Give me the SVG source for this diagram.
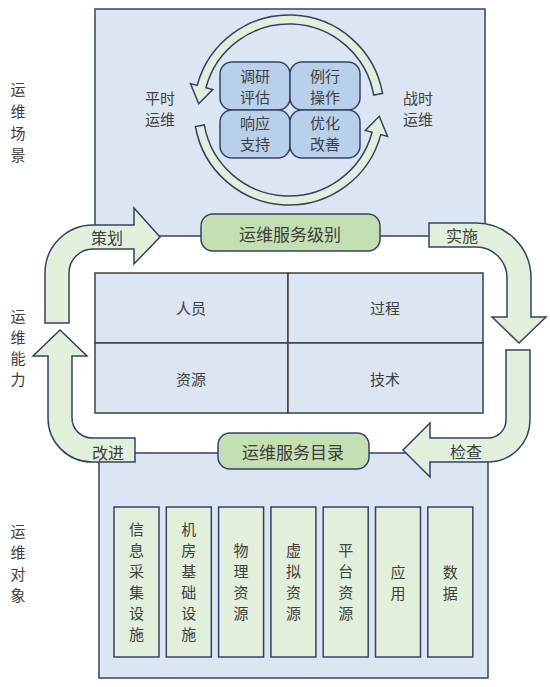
<svg xmlns="http://www.w3.org/2000/svg" width="550" height="687" viewBox="0 0 550 687">
<style>
text{font-family:"Noto Sans CJK SC","Liberation Sans",sans-serif;fill:#404040;text-anchor:middle;dominant-baseline:central}
.box{fill:#dce6f2;stroke:#35406a;stroke-width:1.5}
.grid{fill:#dce6f2;stroke:#404040;stroke-width:1.5}
.pill{fill:#c4dfb2;stroke:#35406a;stroke-width:1.5}
.quad{fill:#b9d0ea;stroke:#35406a;stroke-width:1.5}
.col{fill:#e2efda;stroke:#35406a;stroke-width:1.5}
.arr{fill:#e2efda;stroke:#35406a;stroke-width:1.5;stroke-linejoin:miter}
.t15{font-size:15px}
.t16{font-size:16px}
.t17{font-size:17px}
</style>
<rect width="550" height="687" fill="#ffffff"/>

<g id="scene-box">
<rect class="box" x="95" y="9" width="390" height="227"/>
</g>
<g id="object-box">
<rect class="box" x="99" y="453" width="389" height="225"/>
</g>

<g id="labels">
<text class="t15" x="18"><tspan x="18" y="88">运</tspan><tspan x="18" y="110">维</tspan><tspan x="18" y="132">场</tspan><tspan x="18" y="154">景</tspan></text>
<text class="t15" x="18"><tspan x="18" y="315">运</tspan><tspan x="18" y="336">维</tspan><tspan x="18" y="357">能</tspan><tspan x="18" y="378">力</tspan></text>
<text class="t15" x="18"><tspan x="18" y="530">运</tspan><tspan x="18" y="551">维</tspan><tspan x="18" y="573">对</tspan><tspan x="18" y="594">象</tspan></text>
</g>

<g id="cycle">
<path class="arr" d="M382.56,93.5 A95,95 0 0 0 197.24,85.41 L190.48,83.6 L198.72,103.69 L212.69,89.55 L205.93,87.74 A86,86 0 0 1 373.69,95.07 Z"/>
<path class="arr" d="M195.44,126.5 A95,95 0 0 0 380.76,134.59 L387.52,136.4 L379.28,116.31 L365.31,130.45 L372.07,132.26 A86,86 0 0 1 204.31,124.93 Z"/>
<text class="t15"><tspan x="160" y="97">平时</tspan><tspan x="160" y="118">运维</tspan></text>
<text class="t15"><tspan x="418" y="97">战时</tspan><tspan x="418" y="118">运维</tspan></text>
</g>

<g id="q-research">
<rect class="quad" x="220" y="62" width="70" height="48" rx="12"/>
<text class="t15"><tspan x="255" y="75">调研</tspan><tspan x="255" y="96">评估</tspan></text>
</g>
<g id="q-routine">
<rect class="quad" x="290" y="62" width="70" height="48" rx="12"/>
<text class="t15"><tspan x="325" y="75">例行</tspan><tspan x="325" y="96">操作</tspan></text>
</g>
<g id="q-response">
<rect class="quad" x="220" y="110" width="70" height="48" rx="12"/>
<text class="t15"><tspan x="255" y="122">响应</tspan><tspan x="255" y="143">支持</tspan></text>
</g>
<g id="q-optimize">
<rect class="quad" x="290" y="110" width="70" height="48" rx="12"/>
<text class="t15"><tspan x="325" y="122">优化</tspan><tspan x="325" y="143">改善</tspan></text>
</g>

<g id="capability-grid">
<rect class="grid" x="95" y="273" width="193" height="70"/>
<rect class="grid" x="288" y="273" width="195" height="70"/>
<rect class="grid" x="95" y="343" width="193" height="70"/>
<rect class="grid" x="288" y="343" width="195" height="70"/>
<text class="t15" x="191" y="307">人员</text>
<text class="t15" x="385" y="307">过程</text>
<text class="t15" x="191" y="378">资源</text>
<text class="t15" x="385" y="378">技术</text>
</g>

<g id="connectors">
<path class="arr" d="M45,323 L45,273 A48,48 0 0 1 93,225 L134,225 L134,208 L160,237 L134,264 L134,249 L93,249 A24,24 0 0 0 69,273 L69,323 Z"/>
<path class="arr" d="M429,223 L476,223 A55,55 0 0 1 531,278 L531,317 L546,317 L519,343 L492,317 L507,317 L507,278 A31,31 0 0 0 476,247 L429,247 Z"/>
<path class="arr" d="M506,350 L530,350 L530,420 A42,42 0 0 1 488,462 L430,462 L430,477 L403,450 L430,423 L430,438 L488,438 A18,18 0 0 0 506,420 Z"/>
<path class="arr" d="M135,438 L135,462 L92,462 A44,44 0 0 1 48,418 L48,356 L33,356 L60,330 L87,356 L72,356 L72,418 A20,20 0 0 0 92,438 Z"/>
<text class="t16" x="107" y="237">策划</text>
<text class="t16" x="462" y="235">实施</text>
<text class="t16" x="466" y="451">检查</text>
<text class="t16" x="108" y="452">改进</text>
</g>

<g id="sla">
<rect class="pill" x="201" y="214" width="179" height="37" rx="12"/>
<text class="t17" x="290" y="233">运维服务级别</text>
</g>
<g id="catalog">
<rect class="pill" x="218" y="433" width="151" height="36" rx="12"/>
<text class="t17" x="293" y="451">运维服务目录</text>
</g>

<g id="c1">
<rect class="col" x="114" y="507" width="45" height="150"/>
<text class="t15"><tspan x="136.5" y="528">信</tspan><tspan x="136.5" y="549">息</tspan><tspan x="136.5" y="570">采</tspan><tspan x="136.5" y="591">集</tspan><tspan x="136.5" y="612">设</tspan><tspan x="136.5" y="633">施</tspan></text>
</g>
<g id="c2">
<rect class="col" x="166.3" y="507" width="45" height="150"/>
<text class="t15"><tspan x="188.8" y="528">机</tspan><tspan x="188.8" y="549">房</tspan><tspan x="188.8" y="570">基</tspan><tspan x="188.8" y="591">础</tspan><tspan x="188.8" y="612">设</tspan><tspan x="188.8" y="633">施</tspan></text>
</g>
<g id="c3">
<rect class="col" x="218.6" y="507" width="45" height="150"/>
<text class="t15"><tspan x="241.1" y="549">物</tspan><tspan x="241.1" y="570">理</tspan><tspan x="241.1" y="591">资</tspan><tspan x="241.1" y="612">源</tspan></text>
</g>
<g id="c4">
<rect class="col" x="270.9" y="507" width="45" height="150"/>
<text class="t15"><tspan x="293.4" y="549">虚</tspan><tspan x="293.4" y="570">拟</tspan><tspan x="293.4" y="591">资</tspan><tspan x="293.4" y="612">源</tspan></text>
</g>
<g id="c5">
<rect class="col" x="323.2" y="507" width="45" height="150"/>
<text class="t15"><tspan x="345.7" y="549">平</tspan><tspan x="345.7" y="570">台</tspan><tspan x="345.7" y="591">资</tspan><tspan x="345.7" y="612">源</tspan></text>
</g>
<g id="c6">
<rect class="col" x="375.5" y="507" width="45" height="150"/>
<text class="t15"><tspan x="398" y="571">应</tspan><tspan x="398" y="592">用</tspan></text>
</g>
<g id="c7">
<rect class="col" x="427.8" y="507" width="45" height="150"/>
<text class="t15"><tspan x="450.3" y="571">数</tspan><tspan x="450.3" y="592">据</tspan></text>
</g>
</svg>
